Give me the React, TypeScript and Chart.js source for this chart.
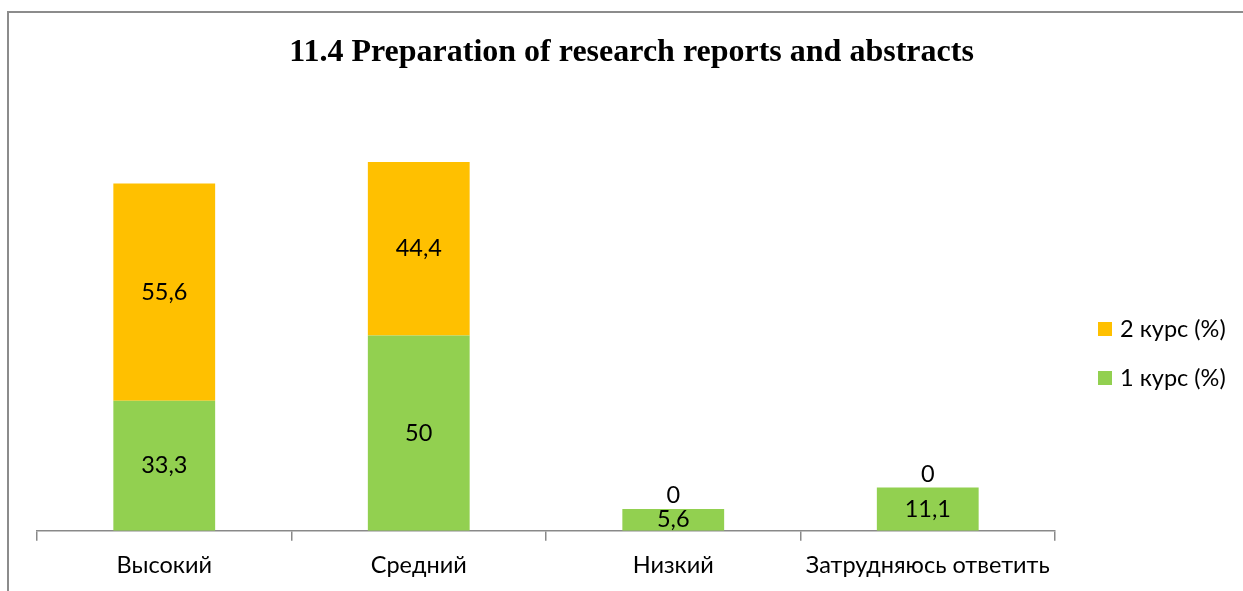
import React, { useEffect, useRef } from "react";
import { Chart, registerables } from "chart.js";

Chart.register(...registerables);

const titleText = "11.4 Preparation of research reports and abstracts";
const categories = ["Высокий", "Средний", "Низкий", "Затрудняюсь ответить"];
const course1Label = "1 курс (%)";
const course2Label = "2 курс (%)";
const course1Values = [33.3, 50, 5.6, 11.1];
const course2Values = [55.6, 44.4, 0, 0];
const course1Color = "#92D050";
const course2Color = "#FFC000";

const FONT = "Lato, 'Open Sans', sans-serif";
const FONT_SIZE = 23.5;

const fmt = (v: number) => String(v).replace(".", ",");

const titlePlugin = {
  id: "customTitle",
  afterDraw(chart: any) {
    const ctx = chart.ctx;
    ctx.save();
    ctx.font = "bold 32px 'Liberation Serif', 'Times New Roman', serif";
    ctx.fillStyle = "#000";
    ctx.textAlign = "center";
    ctx.textBaseline = "middle";
    ctx.fillText(titleText, chart.width / 2 + 10, 53);
    ctx.restore();
  },
};

const labelPlugin = {
  id: "barLabels",
  afterDatasetsDraw(chart: any) {
    const ctx = chart.ctx;
    ctx.save();
    ctx.font = `${FONT_SIZE}px ${FONT}`;
    ctx.fillStyle = "#000";
    ctx.textAlign = "center";
    ctx.textBaseline = "middle";
    chart.data.datasets.forEach((ds: any, i: number) => {
      const meta = chart.getDatasetMeta(i);
      meta.data.forEach((bar: any, j: number) => {
        const v = ds.data[j];
        const { x, y, base } = bar.getProps(["x", "y", "base"], true);
        const ty = v === 0 ? y - 13 : (y + base) / 2;
        ctx.fillText(fmt(v), x, ty);
      });
    });
    ctx.restore();
  },
};

const legendPlugin = {
  id: "sideLegend",
  afterDraw(chart: any) {
    const ctx = chart.ctx;
    const area = chart.chartArea;
    const items = [...chart.data.datasets].reverse();
    ctx.save();
    ctx.font = `${FONT_SIZE}px ${FONT}`;
    ctx.textBaseline = "middle";
    ctx.textAlign = "left";
    items.forEach((ds: any, k: number) => {
      const cy = area.top + 189 + k * 49;
      const bx = area.right + 43;
      ctx.fillStyle = ds.backgroundColor;
      ctx.fillRect(bx, cy - 7, 14, 14);
      ctx.fillStyle = "#000";
      ctx.fillText(ds.label, bx + 22, cy);
    });
    ctx.restore();
  },
};

export default function App() {
  const ref = useRef<HTMLCanvasElement>(null);
  useEffect(() => {
    document.body.style.margin = "0";
    const chart = new Chart(ref.current!, {
      type: "bar",
      data: {
        labels: categories,
        datasets: [
          {
            label: course1Label,
            data: course1Values,
            backgroundColor: course1Color,
            categoryPercentage: 1,
            barPercentage: 0.4,
          },
          {
            label: course2Label,
            data: course2Values,
            backgroundColor: course2Color,
            categoryPercentage: 1,
            barPercentage: 0.4,
          },
        ],
      },
      options: {
        responsive: false,
        animation: false,
        layout: { padding: { left: 37, right: 188, top: 140, bottom: 0 } },
        plugins: {
          legend: { display: false },
          tooltip: { enabled: false },
          title: { display: false },
        },
        scales: {
          x: {
            stacked: true,
            grid: {
              display: true,
              drawOnChartArea: false,
              drawTicks: true,
              tickLength: 10,
              color: "#898989",
              lineWidth: 1.5,
              offset: true,
            },
            border: { display: true, color: "#898989", width: 1.5 },
            ticks: {
              color: "#000",
              padding: 11,
              font: { family: FONT, size: FONT_SIZE, lineHeight: 1.2 },
              maxRotation: 0,
            },
          },
          y: {
            stacked: true,
            display: false,
            min: 0,
            max: 100,
          },
        },
      },
      plugins: [labelPlugin, legendPlugin, titlePlugin],
    });
    return () => chart.destroy();
  }, []);
  return (
    <div style={{ position: "relative", width: 1243, height: 591, overflow: "hidden" }}>
      <div
        style={{
          position: "absolute",
          left: 7,
          top: 11,
          width: 1260,
          height: 620,
          borderLeft: "2px solid #8c8c8c",
          borderTop: "2px solid #8c8c8c",
        }}
      />
      <canvas ref={ref} width={1243} height={591} style={{ position: "absolute", left: 0, top: 0, display: "block" }} />
    </div>
  );
}
